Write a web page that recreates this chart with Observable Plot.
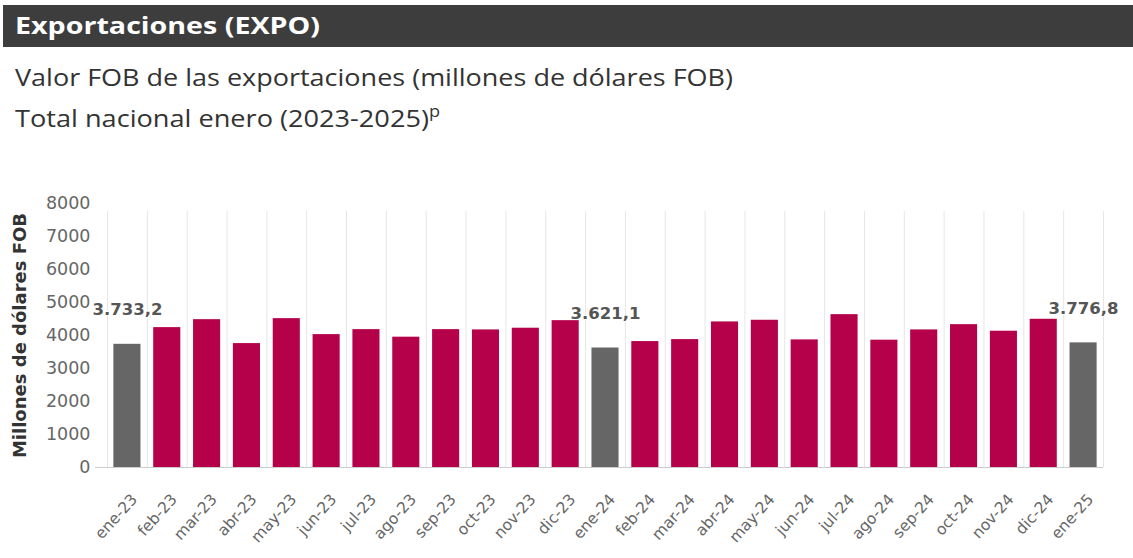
<!DOCTYPE html>
<html>
<head>
<meta charset="utf-8">
<script src="https://cdn.jsdelivr.net/npm/d3@7"></script>
<script src="https://cdn.jsdelivr.net/npm/@observablehq/plot@0.6"></script>
<style>
  body { margin:0; background:#ffffff; width:1133px; height:558px; overflow:hidden; position:relative; }
  #hdrbox { position:absolute; left:3px; top:5px; width:1130px; height:42px; background:#3d3d3d; }
  .t { position:absolute; white-space:nowrap; font-family:"Open Sans", sans-serif; line-height:1; transform-origin:0 0; }
  #hdr { left:15px; top:15px; font-size:22.5px; font-weight:bold; color:#fff; }
  #sub1 { left:15px; top:65px; font-size:24px; color:#333; }
  #sub2 { left:15px; top:106px; font-size:24px; color:#333; }
  #sub2 .sup { font-size:16px; position:relative; top:-10px; }
  #chart { position:absolute; left:0; top:150px; }
</style>
</head>
<body>
<div id="hdrbox"></div>
<div id="hdr" class="t">Exportaciones (EXPO)</div>
<div id="sub1" class="t">Valor FOB de las exportaciones (millones de dólares FOB)</div>
<div id="sub2" class="t">Total nacional enero (2023-2025)<span class="sup">p</span></div>
<div id="chart"></div>
<script>
const months = ["ene-23","feb-23","mar-23","abr-23","may-23","jun-23","jul-23","ago-23","sep-23","oct-23","nov-23","dic-23",
                "ene-24","feb-24","mar-24","abr-24","may-24","jun-24","jul-24","ago-24","sep-24","oct-24","nov-24","dic-24","ene-25"];
const values = [3733.2, 4239, 4480, 3755, 4511, 4027, 4178, 3949, 4178, 4169, 4221, 4450,
                3621.1, 3816, 3876, 4411, 4462, 3867, 4632, 3858, 4169, 4329, 4130, 4492, 3776.8];
const yTicks = [0, 1000, 2000, 3000, 4000, 5000, 6000, 7000, 8000];
const yTitle = "Millones de dólares FOB";

const data = months.map((m, i) => ({month: m, value: values[i], jan: m.startsWith("ene")}));
const fmt = d3.formatLocale({decimal: ",", thousands: ".", grouping: [3], currency: ["", ""]}).format(",.1f");

const step = (1133 - 107 - 30) / months.length;

const chart = Plot.plot({
  width: 1133,
  height: 408,
  marginTop: 53,
  marginBottom: 91,
  marginLeft: 107,
  marginRight: 30,
  style: {fontFamily: "'DejaVu Sans', sans-serif", background: "transparent", color: "#666"},
  x: {domain: months, paddingInner: 0.32, paddingOuter: 0.16, round: false},
  y: {domain: [0, 8000]},
  marks: [
    Plot.ruleX(months, {x: d => d, dx: -step / 2, stroke: "#e6e6e6", strokeWidth: 1, y1: 0, y2: 8000, insetBottom: -8}),
    Plot.ruleX([months[months.length - 1]], {x: d => d, dx: step / 2, stroke: "#e6e6e6", strokeWidth: 1, y1: 0, y2: 8000, insetBottom: -8}),
    Plot.barY(data.filter(d => !d.jan), {x: "month", y: "value", fill: "#b5004a"}),
    Plot.barY(data.filter(d => d.jan), {x: "month", y: "value", fill: "#666666"}),
    Plot.ruleY([0], {stroke: "#cccccc", insetLeft: -12}),
    Plot.text(data.filter(d => d.jan), {x: "month", y: "value", text: d => fmt(d.value), dy: -29, lineAnchor: "bottom",
      fontSize: 16.5, fontWeight: "bold", fill: "#555", stroke: "#fff", strokeWidth: 2}),
    Plot.axisY({ticks: yTicks, tickFormat: d => String(d), tickSize: 0, tickPadding: 17, fontSize: 17.5, fill: "#666", label: null}),
    Plot.axisX({tickSize: 0, tickRotate: -48, tickPadding: 29, dx: 7, fontSize: 15.5, fill: "#666", label: null}),
    Plot.text([yTitle], {text: d => d, frameAnchor: "left", textAnchor: "middle", rotate: -90, dx: -87, fontSize: 18, fontWeight: "bold", fill: "#333"})
  ]
});
document.getElementById("chart").appendChild(chart);

// stretch heading texts horizontally to the widths seen in the reference
function fit(id, targetWidth) {
  const el = document.getElementById(id);
  const w = el.getBoundingClientRect().width;
  el.style.transform = `scaleX(${targetWidth / w})`;
}
fit("hdr", 305);
fit("sub1", 718);
fit("sub2", 425);
</script>
</body>
</html>
